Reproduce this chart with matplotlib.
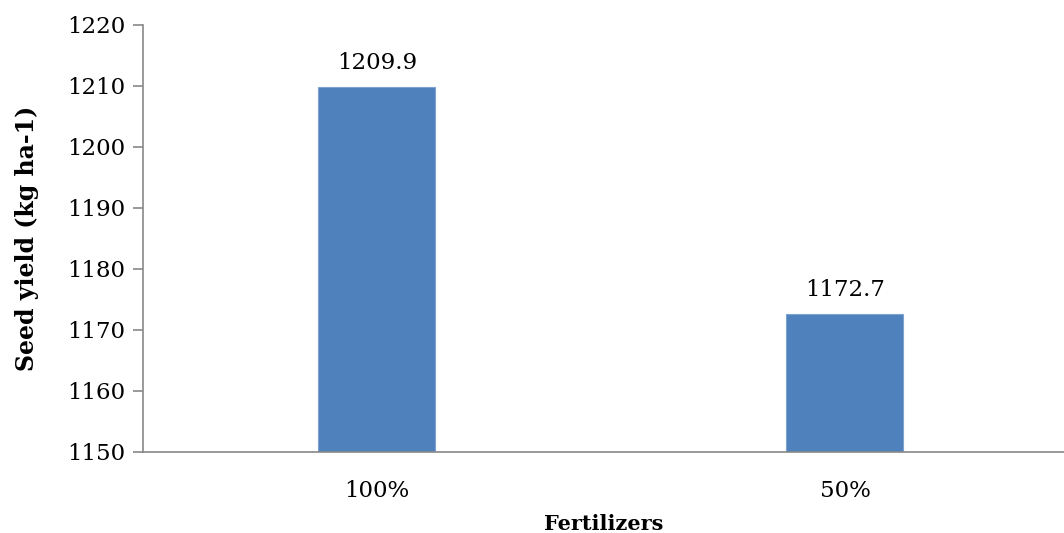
import matplotlib
matplotlib.use("Agg")
import matplotlib.pyplot as plt

categories = ["100%", "50%"]
values = [1209.9, 1172.7]
yticks = [1150, 1160, 1170, 1180, 1190, 1200, 1210, 1220]

plt.rcParams['font.family'] = ['DejaVu Serif']

fig = plt.figure(figsize=(10.64, 5.33), dpi=100)
ax = fig.add_axes([143/1064, 1-452/533, 1-143/1064, (452-25)/533])

x = list(range(len(categories)))
ax.bar(x, values, width=0.25, color='#4F81BD', edgecolor='#7FA3D0', linewidth=0.8, zorder=2)
for xi, v in zip(x, values):
    ax.annotate(f"{v:.1f}", (xi, v), xytext=(0, 9), textcoords='offset points',
                ha='center', va='bottom', fontsize=16.5)

ax.set_ylim(1150, 1220)
ax.set_yticks(yticks)
ax.set_xlim(-0.5, 1.468)
ax.set_xticks(x)
ax.set_xticklabels(categories)
ax.tick_params(axis='y', labelsize=16.5, length=7, color='#888888', width=1.2, pad=6)
ax.tick_params(axis='x', labelsize=16.5, length=0, pad=20)
for s in ['top', 'right']:
    ax.spines[s].set_visible(False)
for s in ['left', 'bottom']:
    ax.spines[s].set_color('#888888')
    ax.spines[s].set_linewidth(1.2)

ax.set_ylabel("Seed yield (kg ha-1)", fontsize=17, fontweight='bold', labelpad=20)
ax.set_xlabel("Fertilizers", fontsize=15, fontweight='bold', labelpad=9)

fig.savefig("out.png", dpi=100)
